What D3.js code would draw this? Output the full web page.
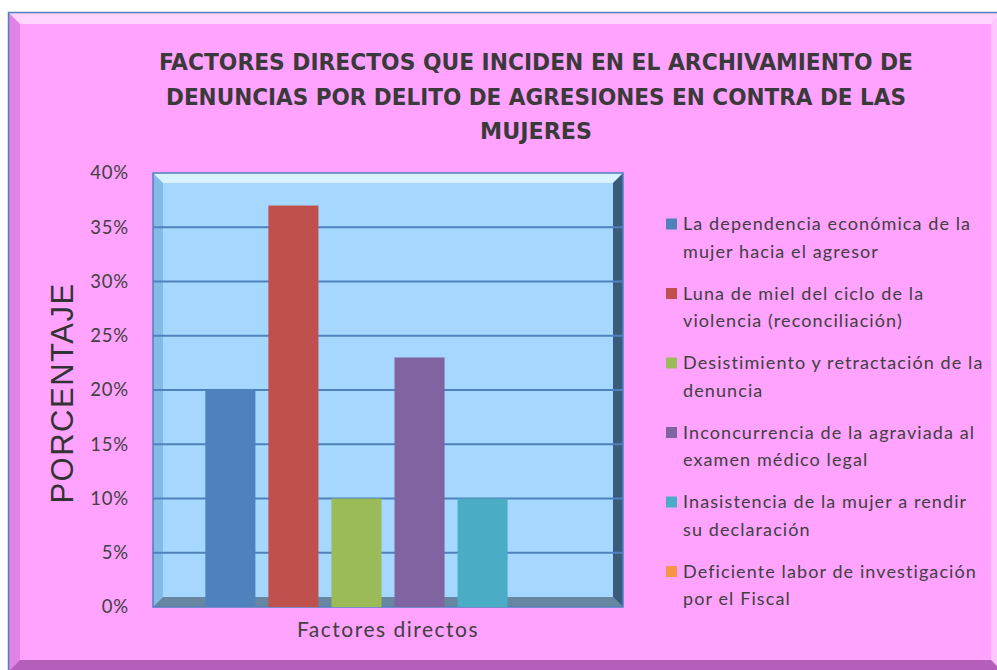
<!DOCTYPE html>
<html>
<head>
<meta charset="utf-8">
<script src="https://cdn.jsdelivr.net/npm/d3@7"></script>
<style>
  html, body { margin: 0; padding: 0; background: #fff; }
  svg { display: block; }
</style>
</head>
<body>
<div id="chart"></div>
<script>
// Factores directos - bar chart, one category, six series
const categories = ['Factores directos'];
const seriesNames = [
  ['La dependencia económica de la', 'mujer hacia el agresor'],
  ['Luna de miel del ciclo de la', 'violencia (reconciliación)'],
  ['Desistimiento y retractación de la', 'denuncia'],
  ['Inconcurrencia de la agraviada al', 'examen médico legal'],
  ['Inasistencia de la mujer a rendir', 'su declaración'],
  ['Deficiente labor de investigación', 'por el Fiscal']
];
const seriesValues = [0.20, 0.37, 0.10, 0.23, 0.10, 0.0];
const seriesColors = ['#4F81BD', '#C0504D', '#9BBB59', '#8064A2', '#4BACC6', '#F79646'];
const yTicks = [0, 0.05, 0.10, 0.15, 0.20, 0.25, 0.30, 0.35, 0.40];
const titleLines = [
  'FACTORES DIRECTOS QUE INCIDEN EN EL ARCHIVAMIENTO DE',
  'DENUNCIAS POR DELITO DE AGRESIONES EN CONTRA DE LAS',
  'MUJERES'
];
const titleWidths = [754, 740, 112];

const width = 997, height = 670;
const frame = { x: 8, y: 12, w: 995, h: 660, bevel: 12 };
const plot = { left: 153, top: 173, right: 623, bottom: 607, bevel: 10 };

const svg = d3.select('#chart').append('svg')
  .attr('width', width)
  .attr('height', height);

// bevel helper: four trapezoids around a rect
function bevel(g, x, y, w, h, b, cols) {
  const sides = [
    [[x, y], [x + w, y], [x + w - b, y + b], [x + b, y + b]],           // top
    [[x, y], [x + b, y + b], [x + b, y + h - b], [x, y + h]],           // left
    [[x + w, y], [x + w, y + h], [x + w - b, y + h - b], [x + w - b, y + b]], // right
    [[x, y + h], [x + b, y + h - b], [x + w - b, y + h - b], [x + w, y + h]]  // bottom
  ];
  sides.forEach((pts, i) => {
    g.append('polygon')
      .attr('points', pts.map(p => p.join(',')).join(' '))
      .attr('fill', cols[i]);
  });
}

// outer chart area
svg.append('rect')
  .attr('x', frame.x).attr('y', frame.y)
  .attr('width', frame.w).attr('height', frame.h)
  .attr('fill', '#FFA3FF');
bevel(svg.append('g'), frame.x, frame.y, frame.w, frame.h, frame.bevel,
  ['rgba(255,230,255,0.75)', 'rgba(190,90,200,0.45)', 'rgba(255,220,255,0.6)', 'rgba(120,40,130,0.55)']);
svg.append('line')
  .attr('x1', frame.x).attr('x2', width)
  .attr('y1', frame.y + 0.5).attr('y2', frame.y + 0.5)
  .attr('stroke', '#4F81BD').attr('stroke-width', 1.5);
svg.append('line')
  .attr('x1', frame.x + 0.5).attr('x2', frame.x + 0.5)
  .attr('y1', frame.y).attr('y2', height)
  .attr('stroke', '#4F81BD').attr('stroke-width', 1.5);

// title
const title = svg.append('g')
  .attr('font-family', '"DejaVu Sans Condensed", "Liberation Sans Narrow", "Open Sans", sans-serif')
  .attr('font-weight', 'bold')
  .attr('font-size', 23.5)
  .attr('fill', '#3a3a3a')
  .attr('text-anchor', 'middle');
titleLines.forEach((t, i) => {
  title.append('text')
    .attr('x', 536)
    .attr('y', 70 + i * 34.5)
    .attr('textLength', titleWidths[i])
    .attr('lengthAdjust', 'spacingAndGlyphs')
    .text(t);
});

// scales
const y = d3.scaleLinear().domain([0, 0.40]).range([plot.bottom, plot.top]);
const x0 = d3.scaleBand().domain(categories).range([plot.left, plot.right]);
const x1 = d3.scaleBand()
  .domain(d3.range(seriesValues.length))
  .range([0, x0.bandwidth()])
  .paddingInner(0.206)
  .paddingOuter(0.83);

// plot area
const pw = plot.right - plot.left, ph = plot.bottom - plot.top;
svg.append('rect')
  .attr('x', plot.left).attr('y', plot.top)
  .attr('width', pw).attr('height', ph)
  .attr('fill', '#A6D8FF');
bevel(svg.append('g'), plot.left, plot.top, pw, ph, plot.bevel,
  ['rgba(225,248,255,0.85)', 'rgba(90,150,200,0.45)', 'rgba(20,50,80,0.75)', 'rgba(60,80,100,0.6)']);

// gridlines
svg.append('g')
  .selectAll('line')
  .data(yTicks.slice(1, -1))
  .join('line')
  .attr('x1', plot.left).attr('x2', plot.right)
  .attr('y1', d => y(d)).attr('y2', d => y(d))
  .attr('stroke', '#4F81BD').attr('stroke-width', 2);

svg.append('rect')
  .attr('x', plot.left).attr('y', plot.top)
  .attr('width', pw).attr('height', ph)
  .attr('fill', 'none')
  .attr('stroke', '#4F81BD').attr('stroke-width', 1.5);

// bars
svg.append('g')
  .selectAll('rect')
  .data(seriesValues)
  .join('rect')
  .attr('x', (d, i) => x0(categories[0]) + x1(i))
  .attr('width', x1.bandwidth())
  .attr('y', d => y(d))
  .attr('height', d => y(0) - y(d))
  .attr('fill', (d, i) => seriesColors[i]);

// y axis labels
const yAxis = svg.append('g')
  .attr('transform', `translate(${plot.left}, 0)`)
  .call(d3.axisLeft(y).tickValues(yTicks).tickFormat(d3.format('.0%')).tickSize(0).tickPadding(24));
yAxis.select('.domain').remove();
yAxis.selectAll('text')
  .attr('font-family', 'Lato, "Open Sans", sans-serif')
  .attr('font-size', 18.5)
  .attr('letter-spacing', 0.8)
  .attr('fill', '#404040');

// y axis title
svg.append('text')
  .attr('transform', 'translate(73, 393) rotate(-90)')
  .attr('text-anchor', 'middle')
  .attr('font-family', '"Liberation Sans", Arial, sans-serif')
  .attr('font-size', 31)
  .attr('letter-spacing', 1.5)
  .attr('fill', '#333')
  .text('PORCENTAJE');

// x axis label
svg.append('text')
  .attr('x', x0(categories[0]) + x0.bandwidth() / 2)
  .attr('y', 637)
  .attr('text-anchor', 'middle')
  .attr('font-family', 'Lato, "Open Sans", sans-serif')
  .attr('font-size', 21)
  .attr('letter-spacing', 1.5)
  .attr('fill', '#404040')
  .text(categories[0]);

// legend
const legend = svg.append('g')
  .attr('font-family', 'Lato, "Open Sans", sans-serif')
  .attr('font-size', 18)
  .attr('letter-spacing', 1.1)
  .attr('fill', '#404040');
seriesNames.forEach((lines, i) => {
  const gy = 224 + i * 69.5;
  legend.append('rect')
    .attr('x', 666).attr('y', gy - 5.5)
    .attr('width', 11).attr('height', 11)
    .attr('fill', seriesColors[i]);
  lines.forEach((t, j) => {
    legend.append('text')
      .attr('x', 683)
      .attr('y', gy + j * 27.5)
      .attr('dy', '0.35em')
      .text(t);
  });
});
</script>
</body>
</html>
